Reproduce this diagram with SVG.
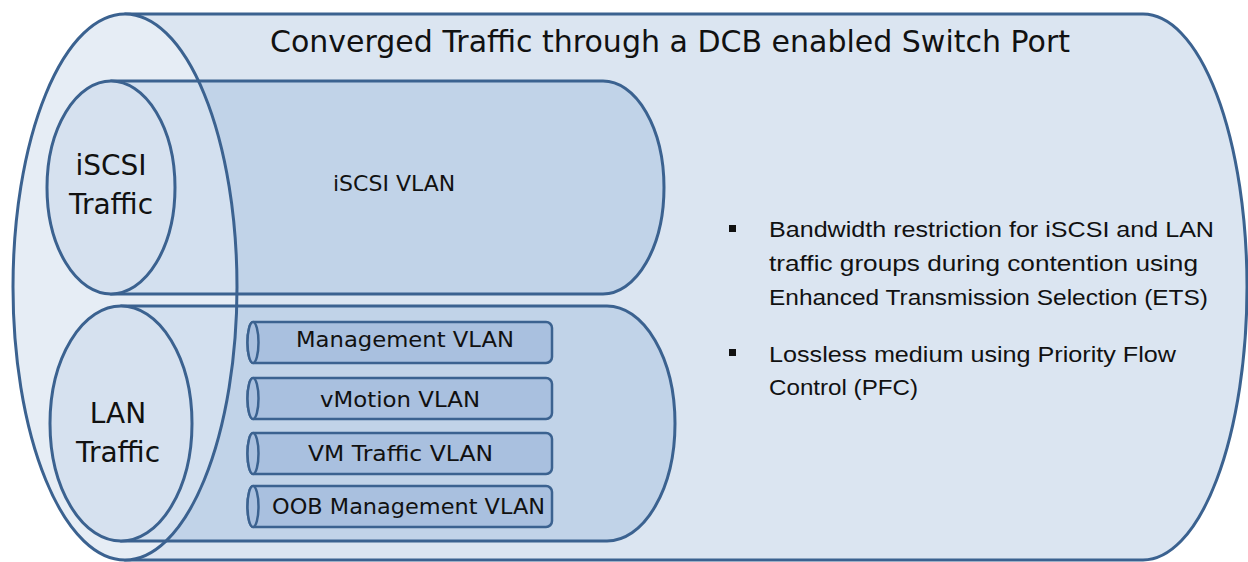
<svg xmlns="http://www.w3.org/2000/svg" width="1248" height="562" viewBox="0 0 1248 562">
<defs>
<path id="iscsiBody" d="M111 81 H603 A61 106.5 0 0 1 603 294 H111 Z"/>
<path id="lanBody" d="M121 306 H607 A68 117.5 0 0 1 607 541 H121 Z"/>
</defs>
<style>
.ln{stroke:#3b6290;stroke-width:3;stroke-linejoin:round}
.pl{stroke:#3b6290;stroke-width:2.5;stroke-linejoin:round}
.body{fill:#dbe5f1}
.cyl{fill:#c1d3e8}
.face{fill:#d6e1ef}
.pipe{fill:#a9c0df}
.t{font-family:"DejaVu Sans",Verdana,sans-serif;fill:#111}
.b{font-family:"Liberation Sans",Arial,sans-serif;font-size:22px;fill:#111}
</style>
<rect width="1248" height="562" fill="#fff"/>
<g id="outer-port">
<path class="body ln" d="M125 14 H1143 A104 273 0 0 1 1143 560 H125 Z"/>
<ellipse cx="125" cy="287" rx="112" ry="273" fill="#dbe5f1"/>
</g>
<g id="iscsi-cylinder">
<use href="#iscsiBody" class="cyl"/>
</g>
<g id="lan-cylinder">
<use href="#lanBody" class="cyl"/>
</g>
<ellipse id="outer-face-tint" cx="125" cy="287" rx="112" ry="273" fill="#ffffff" fill-opacity="0.3"/>
<g id="cylinder-outlines">
<use href="#iscsiBody" class="ln" fill="none"/>
<use href="#lanBody" class="ln" fill="none"/>
</g>
<g id="iscsi-traffic">
<ellipse class="face ln" cx="111" cy="187.5" rx="64" ry="106.5"/>
<text class="t" font-size="28" text-anchor="middle" x="111" y="175">iSCSI</text>
<text class="t" font-size="28" text-anchor="middle" x="111" y="214">Traffic</text>
</g>
<g id="lan-traffic">
<ellipse class="face ln" cx="121" cy="423.5" rx="71" ry="117.5"/>
<text class="t" font-size="28" text-anchor="middle" x="118" y="423">LAN</text>
<text class="t" font-size="28" text-anchor="middle" x="118" y="462">Traffic</text>
</g>
<ellipse id="outer-rim" cx="125" cy="287" rx="112" ry="273" fill="none" class="ln"/>
<g id="title">
<text class="t" font-size="30" x="270" y="52" textLength="800" lengthAdjust="spacingAndGlyphs">Converged Traffic through a DCB enabled Switch Port</text>
</g>
<g id="iscsi-vlan">
<text class="t" font-size="22" x="333" y="191">iSCSI VLAN</text>
</g>
<g id="management-vlan">
<path class="pipe pl" d="M253 322 H546 A6 6 0 0 1 552 328 V357 A6 6 0 0 1 546 363 H253 A5.5 20.5 0 0 1 253 322 Z"/>
<ellipse class="pipe pl" cx="253" cy="342.5" rx="5.5" ry="20.5"/>
<text class="t" font-size="22" x="296" y="347" textLength="218" lengthAdjust="spacingAndGlyphs">Management VLAN</text>
</g>
<g id="vmotion-vlan">
<path class="pipe pl" d="M253 378 H546 A6 6 0 0 1 552 384 V413 A6 6 0 0 1 546 419 H253 A5.5 20.5 0 0 1 253 378 Z"/>
<ellipse class="pipe pl" cx="253" cy="398.5" rx="5.5" ry="20.5"/>
<text class="t" font-size="22" x="320" y="407" textLength="160" lengthAdjust="spacingAndGlyphs">vMotion VLAN</text>
</g>
<g id="vm-traffic-vlan">
<path class="pipe pl" d="M253 433 H546 A6 6 0 0 1 552 439 V468 A6 6 0 0 1 546 474 H253 A5.5 20.5 0 0 1 253 433 Z"/>
<ellipse class="pipe pl" cx="253" cy="453.5" rx="5.5" ry="20.5"/>
<text class="t" font-size="22" x="308" y="461" textLength="185" lengthAdjust="spacingAndGlyphs">VM Traffic VLAN</text>
</g>
<g id="oob-management-vlan">
<path class="pipe pl" d="M253 486 H546 A6 6 0 0 1 552 492 V521 A6 6 0 0 1 546 527 H253 A5.5 20.5 0 0 1 253 486 Z"/>
<ellipse class="pipe pl" cx="253" cy="506.5" rx="5.5" ry="20.5"/>
<text class="t" font-size="22" x="272" y="514" textLength="273" lengthAdjust="spacingAndGlyphs">OOB Management VLAN</text>
</g>
<g id="features">
<rect x="729" y="225" width="7" height="7" fill="#111"/>
<text class="b" x="769" y="237" textLength="445" lengthAdjust="spacingAndGlyphs">Bandwidth restriction for iSCSI and LAN</text>
<text class="b" x="769" y="271" textLength="429" lengthAdjust="spacingAndGlyphs">traffic groups during contention using</text>
<text class="b" x="769" y="305" textLength="439" lengthAdjust="spacingAndGlyphs">Enhanced Transmission Selection (ETS)</text>
<rect x="729" y="349" width="7" height="7" fill="#111"/>
<text class="b" x="769" y="362" textLength="407" lengthAdjust="spacingAndGlyphs">Lossless medium using Priority Flow</text>
<text class="b" x="769" y="395" textLength="149" lengthAdjust="spacingAndGlyphs">Control (PFC)</text>
</g>
<g id="connectors"/>
</svg>
